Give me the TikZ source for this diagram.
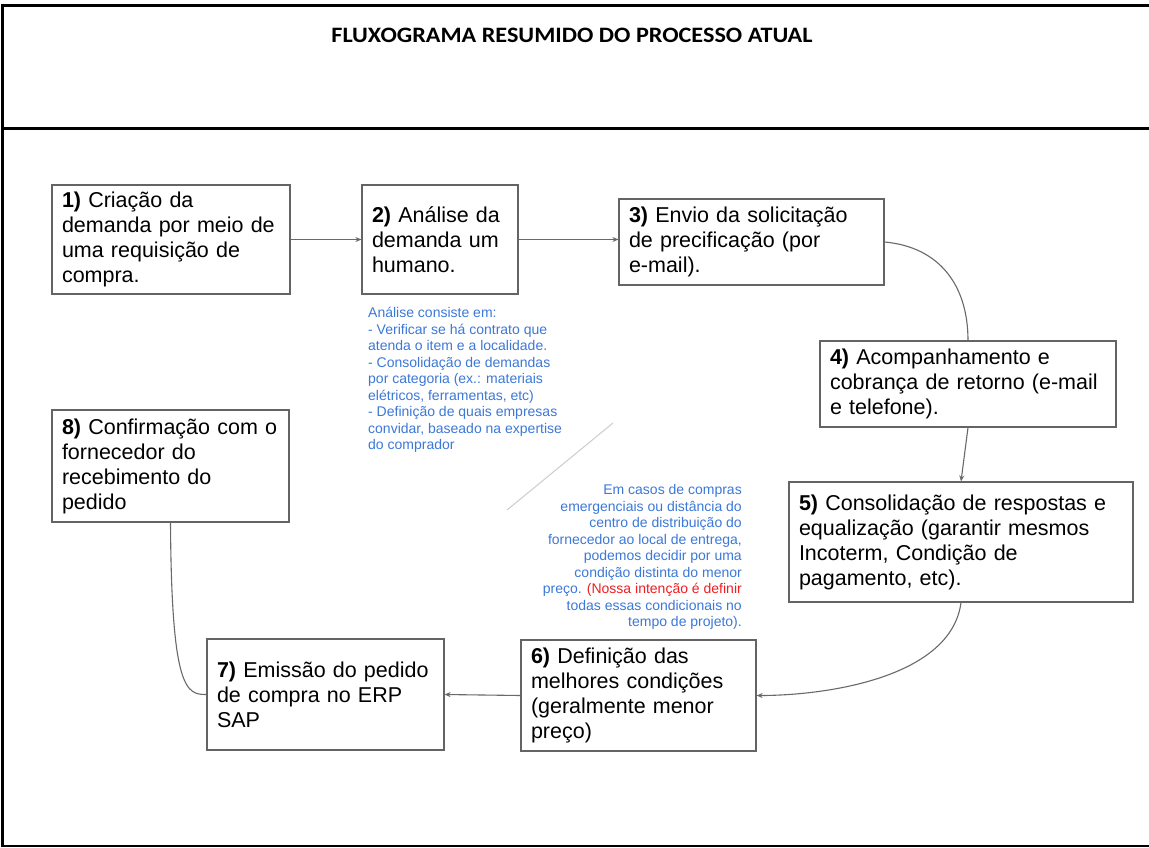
\documentclass[tikz,border=0pt]{standalone}
\usepackage{fontspec}
\setmainfont{Liberation Sans}
\newfontfamily\titlefont{Carlito}
\usepackage{graphicx}
\usetikzlibrary{arrows.meta}
\definecolor{boxgray}{RGB}{100,100,100}
\definecolor{linegray}{RGB}{105,105,105}
\definecolor{noteblue}{RGB}{60,120,216}
\definecolor{notered}{RGB}{238,30,36}
\definecolor{diaggray}{RGB}{205,205,205}
\begin{document}
\begin{tikzpicture}[x=1pt,y=-1pt,
  stepbox/.style={draw=boxgray,line width=1.2pt,inner xsep=10pt,inner ysep=0pt,
    align=left,font=\fontsize{21.5}{25}\selectfont},
  flow/.style={draw=linegray,line width=1.1pt,-{Stealth[length=6pt,width=5pt]}},
  plainflow/.style={draw=linegray,line width=1.1pt},
  framerule/.style={draw=black,line width=3pt},
  note/.style={inner sep=0pt,font=\fontsize{14}{16.5}\selectfont}]
\useasboundingbox (0,0) rectangle (1149,847);
\fill[white] (0,0) rectangle (1149,847);

% frame
\coordinate (fTL) at (2.5,3.5);
\coordinate (fBL) at (2.5,846.5);
\draw[framerule,line width=3.5pt] (fTL) -- (fBL);
\draw[framerule] (1,5) -- (1149,5);
\draw[framerule] (1,128) -- (1149,128);
\draw[framerule,line width=2pt] (1,846) -- (1149,846);

% title
\node (title) at (572,35) {\titlefont\bfseries\fontsize{22}{26}\selectfont\scalebox{1.1}[1]{FLUXOGRAMA RESUMIDO DO PROCESSO ATUAL}};

% boxes
\node[stepbox,minimum width=238pt,minimum height=109pt,text width=218pt] (b1) at (171,239.5)
  {\textbf{1)} Criação da\\demanda por meio de\\uma requisição de\\compra.};
\node[stepbox,minimum width=156pt,minimum height=109pt,text width=136pt] (b2) at (440,239.5)
  {\textbf{2)} Análise da\\demanda um\\humano.};
\node[stepbox,minimum width=265pt,minimum height=86pt,text width=245pt] (b3) at (751.5,242)
  {\textbf{3)} Envio da solicitação\\de precificação (por\\e-mail).};
\node[stepbox,minimum width=296pt,minimum height=86pt,text width=276pt] (b4) at (968,384)
  {\textbf{4)} Acompanhamento e\\cobrança de retorno (e-mail\\e telefone).};
\node[stepbox,minimum width=344pt,minimum height=120pt,text width=324pt] (b5) at (961,542)
  {\textbf{5)} Consolidação de respostas e\\equalização (garantir mesmos\\Incoterm, Condição de\\pagamento, etc).};
\node[stepbox,minimum width=235pt,minimum height=111pt,text width=215pt] (b6) at (638.5,695.5)
  {\textbf{6)} Definição das\\melhores condições\\(geralmente menor\\preço)};
\node[stepbox,minimum width=237pt,minimum height=111pt,text width=217pt] (b7) at (325.5,694.5)
  {\textbf{7)} Emissão do pedido\\de compra no ERP\\SAP};
\node[stepbox,minimum width=237pt,minimum height=112pt,text width=217pt] (b8) at (170.5,466)
  {\mbox{\textbf{8)} Confirmação com o}\\fornecedor do\\recebimento do\\pedido};

% notes
\node[note,text=noteblue,align=left,anchor=west] (n1) at (368,380)
  {Análise consiste em:\\- Verificar se há contrato que\\atenda o item e a localidade.\\- Consolidação de demandas\\por categoria (ex.: materiais\\elétricos, ferramentas, etc)\\- Definição de quais empresas\\convidar, baseado na expertise\\do comprador};
\node[note,text=noteblue,align=right,anchor=east] (n2) at (742,557)
  {Em casos de compras\\emergenciais ou distância do\\centro de distribuição do\\fornecedor ao local de entrega,\\podemos decidir por uma\\condição distinta do menor\\preço. \color{notered}(Nossa intenção é definir\\todas essas condicionais no\\tempo de projeto).};

% light diagonal stroke
\coordinate (d1) at (507,510);
\coordinate (d2) at (613,423);
\draw[diaggray,line width=1pt] (d1) -- (d2);

% connectors
\draw[flow] (b1.east) -- (b2.west);
\draw[flow] (b2.east) -- (b2.east -| b3.west);
\draw[plainflow] (b3.east) .. controls +(55,5) and +(0,-55) .. (b4.north);
\draw[flow] (b4.south) -- (b5.north);
\draw[flow] (b5.south) .. controls +(-10,75) and +(70,0) .. (b6.east);
\draw[flow] (b6.west) -- (b7.east);
\draw[plainflow] (b8.south) .. controls +(1,168) and +(-20,0) .. (b7.west);
\end{tikzpicture}
\end{document}
